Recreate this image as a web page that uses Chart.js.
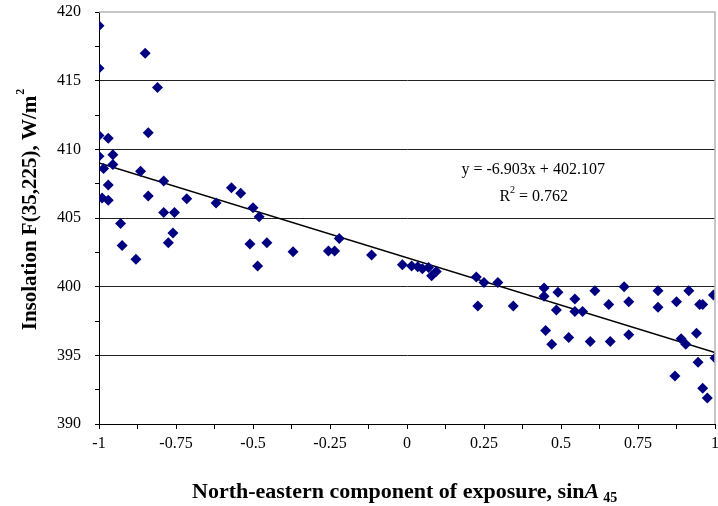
<!DOCTYPE html>
<html>
<head>
<meta charset="utf-8">
<script src="https://cdn.jsdelivr.net/npm/chart.js@4"></script>
<style>
  html, body { margin: 0; padding: 0; background: #fff; }
  #wrap { width: 718px; height: 506px; }
</style>
</head>
<body>
<div id="wrap"><canvas id="chart" width="718" height="506"></canvas></div>
<script>
// exposure component (sin A45) and insolation values
const exposure = [
  -1.00, -1.00, -0.85, -0.81, -1.00, -0.97, -0.84, -1.00, -0.955, -0.985,
  -0.955, -0.865, -0.97, -0.79, -0.99, -0.97, -0.84, -0.715, -0.62, -0.57,
  -0.54, -0.50, -0.79, -0.755, -0.48, -0.93, -0.925, -0.88, -0.76, -0.775,
  -0.51, -0.485, -0.455, -0.37, -0.255, -0.235, -0.22, -0.115, -0.015, 0.015,
  0.035, 0.05, 0.07, 0.08, 0.095, 0.225, 0.25, 0.23, 0.295, 0.345,
  0.445, 0.445, 0.49, 0.545, 0.485, 0.545, 0.57, 0.61, 0.655, 0.705,
  0.72, 0.815, 0.815, 0.875, 0.915, 0.95, 0.96, 0.995, 0.45, 0.47,
  0.525, 0.595, 0.66, 0.72, 0.89, 0.905, 0.94, 1.00, 0.945, 0.87,
  0.96, 0.975
];
const insolation = [
  419.0, 415.9, 417.0, 414.5, 411.0, 410.8, 411.2, 409.5, 409.6, 408.6,
  408.9, 408.4, 407.4, 407.7, 406.45, 406.3, 406.6, 406.4, 406.1, 407.2,
  406.8, 405.75, 405.4, 405.4, 405.1, 404.6, 403.0, 402.0, 403.9, 403.2,
  403.1, 401.5, 403.2, 402.55, 402.6, 402.6, 403.5, 402.3, 401.6, 401.5,
  401.45, 401.3, 401.4, 400.8, 401.1, 400.7, 400.3, 398.6, 400.3, 398.6,
  399.9, 399.3, 399.6, 399.1, 398.3, 398.2, 398.2, 399.7, 398.7, 400.0,
  398.9, 399.7, 398.5, 398.9, 399.7, 398.7, 398.7, 399.4, 396.8, 395.8,
  396.3, 396.0, 396.0, 396.5, 396.2, 395.8, 396.6, 394.8, 394.5, 393.5,
  392.6, 391.9
];

// linear trend end points (y = -6.903x + 402.107)
const trendX = [-1, 1];
const trendY = [409.010, 395.204];

const equationText = 'y = -6.903x + 402.107';
const r2Text = 'R';
const r2Value = ' = 0.762';

const serif = "'Liberation Serif', 'Times New Roman', serif";

const points = exposure.map((x, i) => ({ x: x, y: insolation[i] }));
const trend = trendX.map((x, i) => ({ x: x, y: trendY[i] }));

const titles = {
  id: 'titles',
  afterDraw(chart) {
    const ctx = chart.ctx;
    const area = chart.chartArea;
    const xs = chart.scales.x, ys = chart.scales.y;
    ctx.save();
    ctx.fillStyle = '#000';

    // top and right frame lines
    ctx.strokeStyle = '#b4b4b4';
    ctx.lineWidth = 1.5;
    ctx.beginPath();
    ctx.moveTo(area.left, area.top);
    ctx.lineTo(area.right, area.top);
    ctx.lineTo(area.right, area.bottom);
    ctx.stroke();

    // y axis title with superscript
    ctx.save();
    ctx.translate(31, (area.top + area.bottom) / 2 - 8);
    ctx.rotate(-Math.PI / 2);
    ctx.textBaseline = 'middle';
    ctx.font = 'bold 21px ' + serif;
    const yMain = 'Insolation F(35,225), W/m';
    const w1 = ctx.measureText(yMain).width;
    ctx.font = 'bold 12px ' + serif;
    const w2 = ctx.measureText('2').width;
    let sx = -(w1 + w2) / 2;
    ctx.font = 'bold 21px ' + serif;
    ctx.textAlign = 'left';
    ctx.fillText(yMain, sx, 0);
    ctx.font = 'bold 12px ' + serif;
    ctx.fillText('2', sx + w1 + 1, -10);
    ctx.restore();

    // x axis title with italic A and subscript 45
    ctx.textBaseline = 'alphabetic';
    ctx.textAlign = 'left';
    const partA = 'North-eastern component of exposure, sin';
    ctx.font = 'bold 22px ' + serif;
    const wa = ctx.measureText(partA).width;
    ctx.font = 'bold italic 22px ' + serif;
    const wb = ctx.measureText('A').width;
    let tx = 192;
    const ty = 498;
    ctx.font = 'bold 22px ' + serif;
    ctx.fillText(partA, tx, ty);
    ctx.font = 'bold italic 22px ' + serif;
    ctx.fillText('A', tx + wa, ty);
    ctx.font = 'bold 14px ' + serif;
    ctx.fillText('45', tx + wa + wb + 4, ty + 4);

    // regression equation
    ctx.font = '16px ' + serif;
    const ex = xs.getPixelForValue(0.177);
    const ey = ys.getPixelForValue(408.5);
    ctx.textBaseline = 'middle';
    ctx.fillText(equationText, ex, ey);
    const rx = xs.getPixelForValue(0.3);
    const ry = ys.getPixelForValue(406.55);
    ctx.fillText(r2Text, rx, ry);
    const wr = ctx.measureText(r2Text).width;
    ctx.font = '10px ' + serif;
    ctx.fillText('2', rx + wr, ry - 6);
    const w2b = ctx.measureText('2').width;
    ctx.font = '16px ' + serif;
    ctx.fillText(r2Value, rx + wr + w2b, ry);
    ctx.restore();
  }
};

new Chart(document.getElementById('chart').getContext('2d'), {
  type: 'scatter',
  data: {
    datasets: [
      {
        label: 'Insolation',
        data: points,
        pointStyle: 'rectRot',
        pointRadius: 5.5,
        pointHoverRadius: 5.5,
        backgroundColor: '#000080',
        borderColor: '#000080',
        borderWidth: 0
      },
      {
        label: 'Trend',
        type: 'line',
        data: trend,
        borderColor: '#000',
        borderWidth: 1.6,
        pointRadius: 0,
        fill: false
      }
    ]
  },
  options: {
    responsive: false,
    animation: false,
    events: [],
    layout: { autoPadding: false, padding: { left: 0, right: 3, top: 12, bottom: 0 } },
    plugins: {
      legend: { display: false },
      tooltip: { enabled: false }
    },
    scales: {
      x: {
        type: 'linear',
        min: -1,
        max: 1,
        afterFit: s => {
          s.height = 82;
          s.paddingLeft = 0;
          s.paddingRight = 0;
        },
        afterBuildTicks: s => {
          s.ticks = [];
          for (let i = 0; i <= 16; i++) s.ticks.push({ value: -1 + i * 0.125 });
        },
        border: { color: '#000', width: 1 },
        grid: {
          drawOnChartArea: false,
          tickColor: '#000',
          tickLength: 5
        },
        ticks: {
          autoSkip: false,
          maxRotation: 0,
          padding: 5,
          color: '#000',
          font: { family: serif, size: 16 },
          callback: v => {
            const q = Math.round(v * 8);
            return q % 2 === 0 ? String(Math.round(v * 100) / 100) : '';
          }
        }
      },
      y: {
        min: 390,
        max: 420,
        afterFit: s => {
          s.width = 99;
          s.paddingTop = 0;
          s.paddingBottom = 0;
        },
        afterBuildTicks: s => {
          s.ticks = [];
          for (let i = 0; i <= 12; i++) s.ticks.push({ value: 390 + i * 2.5 });
        },
        border: { color: '#000', width: 1 },
        grid: {
          color: c => (c.tick && c.tick.value % 5 === 0 && c.tick.value !== 420) ? '#222' : 'rgba(0,0,0,0)',
          lineWidth: 1,
          tickColor: '#000',
          tickLength: 4
        },
        ticks: {
          padding: 14,
          color: '#000',
          font: { family: serif, size: 16 },
          callback: v => (v % 5 === 0 ? String(v) : '')
        }
      }
    }
  },
  plugins: [titles]
});
</script>
</body>
</html>
